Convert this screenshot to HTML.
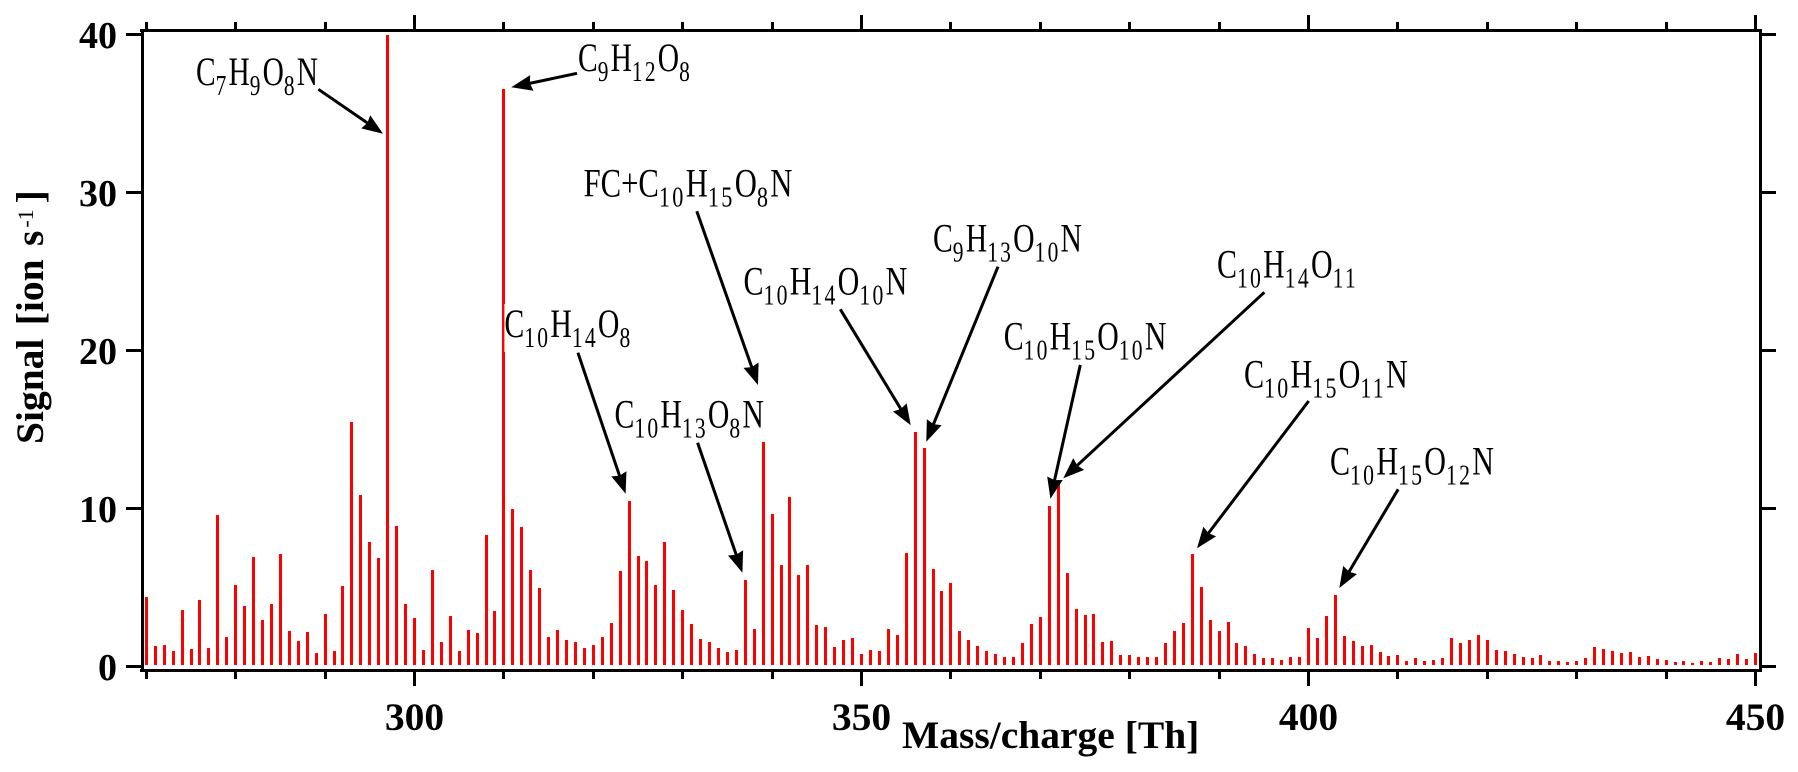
<!DOCTYPE html>
<html lang="en">
<head>
<meta charset="utf-8">
<title>Mass spectrum</title>
<style>
html,body{margin:0;padding:0;background:#fff;}
svg{display:block;font-family:"Liberation Serif",serif;}
.tick-num{font-weight:bold;fill:#000;}
.formula{font-size:40px;fill:#000;}
.formula .s{font-size:29px;letter-spacing:3px;}
</style>
</head>
<body>
<svg id="chart" xmlns="http://www.w3.org/2000/svg" width="1798" height="772" viewBox="0 0 1798 772">
  <rect x="0" y="0" width="1798" height="772" fill="#fff"/>
  <g id="bars" shape-rendering="crispEdges"></g>
  <rect x="504.4" y="304" width="4" height="48" fill="#fff"/>
  <g id="axes" fill="#000" shape-rendering="crispEdges">
    <rect x="140" y="669" width="1622" height="3"/>
    <rect x="140" y="29" width="1622" height="3"/>
    <rect x="141" y="29" width="3" height="643"/>
    <rect x="1759" y="29" width="3" height="643"/>
  </g>
  <g id="ticks" shape-rendering="crispEdges"></g>
  <g id="tick-labels"></g>
  <text x="902" y="748" font-size="39.5" font-weight="bold" fill="#000">Mass/charge [Th]</text>
  <text transform="translate(43,444) rotate(-90)" font-size="39.5" font-weight="bold" fill="#000" word-spacing="3.5">Signal [ion s<tspan font-size="22" font-weight="normal" dx="3" dy="-10">-1</tspan><tspan dx="6" dy="10">]</tspan></text>
  <g id="arrows"></g>
  <g id="formulas">
    <text class="formula" data-l="196" data-r="318" data-b="85">C<tspan class="s" dy="10">7</tspan><tspan dy="-10">H</tspan><tspan class="s" dy="10">9</tspan><tspan dy="-10">O</tspan><tspan class="s" dy="10">8</tspan><tspan dy="-10">N</tspan></text>
    <text class="formula" data-l="578" data-r="692" data-b="71">C<tspan class="s" dy="10">9</tspan><tspan dy="-10">H</tspan><tspan class="s" dy="10">12</tspan><tspan dy="-10">O</tspan><tspan class="s" dy="10">8</tspan></text>
    <text class="formula" data-l="583.6" data-r="792.5" data-b="196.7">FC+C<tspan class="s" dy="10">10</tspan><tspan dy="-10">H</tspan><tspan class="s" dy="10">15</tspan><tspan dy="-10">O</tspan><tspan class="s" dy="10">8</tspan><tspan dy="-10">N</tspan></text>
    <text class="formula" data-l="504.4" data-r="632.5" data-b="337">C<tspan class="s" dy="10">10</tspan><tspan dy="-10">H</tspan><tspan class="s" dy="10">14</tspan><tspan dy="-10">O</tspan><tspan class="s" dy="10">8</tspan></text>
    <text class="formula" data-l="614.5" data-r="763.8" data-b="427.7">C<tspan class="s" dy="10">10</tspan><tspan dy="-10">H</tspan><tspan class="s" dy="10">13</tspan><tspan dy="-10">O</tspan><tspan class="s" dy="10">8</tspan><tspan dy="-10">N</tspan></text>
    <text class="formula" data-l="743.5" data-r="907.3" data-b="294.7">C<tspan class="s" dy="10">10</tspan><tspan dy="-10">H</tspan><tspan class="s" dy="10">14</tspan><tspan dy="-10">O</tspan><tspan class="s" dy="10">10</tspan><tspan dy="-10">N</tspan></text>
    <text class="formula" data-l="933" data-r="1082" data-b="251.3">C<tspan class="s" dy="10">9</tspan><tspan dy="-10">H</tspan><tspan class="s" dy="10">13</tspan><tspan dy="-10">O</tspan><tspan class="s" dy="10">10</tspan><tspan dy="-10">N</tspan></text>
    <text class="formula" data-l="1003.7" data-r="1166.4" data-b="349.3">C<tspan class="s" dy="10">10</tspan><tspan dy="-10">H</tspan><tspan class="s" dy="10">15</tspan><tspan dy="-10">O</tspan><tspan class="s" dy="10">10</tspan><tspan dy="-10">N</tspan></text>
    <text class="formula" data-l="1217" data-r="1358" data-b="277.3">C<tspan class="s" dy="10">10</tspan><tspan dy="-10">H</tspan><tspan class="s" dy="10">14</tspan><tspan dy="-10">O</tspan><tspan class="s" dy="10">11</tspan></text>
    <text class="formula" data-l="1244" data-r="1407.8" data-b="387.5">C<tspan class="s" dy="10">10</tspan><tspan dy="-10">H</tspan><tspan class="s" dy="10">15</tspan><tspan dy="-10">O</tspan><tspan class="s" dy="10">11</tspan><tspan dy="-10">N</tspan></text>
    <text class="formula" data-l="1330" data-r="1494" data-b="474.3">C<tspan class="s" dy="10">10</tspan><tspan dy="-10">H</tspan><tspan class="s" dy="10">15</tspan><tspan dy="-10">O</tspan><tspan class="s" dy="10">12</tspan><tspan dy="-10">N</tspan></text>
  </g>
</svg>
<script>
var firstMass = 270;
var signalValues = [
  4.39,1.29,1.35,0.97,3.57,1.10,4.20,1.16,9.58,1.86,
  5.15,3.82,6.92,2.93,3.95,7.11,2.24,1.60,2.17,0.84,
  3.31,0.97,5.09,15.47,10.85,7.87,6.86,40,8.89,3.95,
  3.06,1.03,6.10,1.54,3.19,0.97,2.30,2.11,8.32,3.50,
  36.56,9.96,8.82,6.10,4.96,1.86,2.30,1.67,1.54,1.16,
  1.35,1.86,2.74,6.04,10.47,6.99,6.67,5.15,7.87,4.83,
  3.57,2.68,1.73,1.54,1.16,0.91,1.03,5.47,2.36,14.21,
  9.65,6.42,10.72,5.78,6.42,2.62,2.49,1.22,1.67,1.79,
  0.78,1.03,0.97,2.36,1.98,7.18,14.84,13.83,6.16,4.77,
  5.28,2.24,1.67,1.29,0.97,0.78,0.59,0.59,1.48,2.68,
  3.12,10.15,11.74,5.91,3.63,3.25,3.31,1.54,1.60,0.72,
  0.72,0.59,0.59,0.59,1.48,2.24,2.74,7.11,5.02,2.93,
  2.24,2.81,1.48,1.29,0.78,0.53,0.53,0.40,0.59,0.59,
  2.43,1.79,3.19,4.52,1.92,1.60,1.29,1.35,0.91,0.65,
  0.72,0.34,0.53,0.34,0.40,0.53,1.79,1.48,1.67,1.98,
  1.67,1.03,0.97,0.78,0.59,0.53,0.72,0.34,0.34,0.27,
  0.34,0.53,1.22,1.10,0.97,0.84,0.91,0.59,0.65,0.46,
  0.40,0.27,0.34,0.21,0.34,0.27,0.53,0.46,0.78,0.46,
  0.84
];
var xMajorTicks = [300,350,400,450];
var xMinorTicks = [270,280,290,310,320,330,340,360,370,380,390,410,420,430,440];
var yTicks = [0,10,20,30,40];

function xScale(m){ return 414.5 + (m - 300) * 8.94; }
function yScale(v){ return 666.3 - v * 15.79; }
function snap(p){ return Math.round(p - 0.5) + 0.5; }

var NS = 'http://www.w3.org/2000/svg';
function mk(tag, parent){ var e = document.createElementNS(NS, tag); parent.appendChild(e); return e; }
function ln(parent, x1, y1, x2, y2, w){
  var l = mk('line', parent);
  l.setAttribute('x1', x1); l.setAttribute('y1', y1);
  l.setAttribute('x2', x2); l.setAttribute('y2', y2);
  l.setAttribute('stroke', '#000'); l.setAttribute('stroke-width', w);
  return l;
}

var barsG = document.getElementById('bars');
signalValues.forEach(function(v, i){
  var m = firstMass + i;
  var top = Math.round(yScale(v));
  var bottom = 665;
  var r = mk('rect', barsG);
  
  
  r.setAttribute('x', Math.round(xScale(m) - 1.5));
  r.setAttribute('y', top);
  r.setAttribute('width', 3);
  r.setAttribute('height', Math.max(bottom - top, 1));
  r.setAttribute('fill', '#f00');
});

var ticksG = document.getElementById('ticks');
var labelsG = document.getElementById('tick-labels');
xMajorTicks.forEach(function(t){
  var x = snap(xScale(t));
  var a = ln(ticksG, x, 15, x, 30, 3);
  
  
  var b = ln(ticksG, x, 671, x, 686, 3);
  
  
  var lab = mk('text', labelsG);
  
  
  lab.setAttribute('class', 'tick-num');
  lab.setAttribute('x', xScale(t));
  lab.setAttribute('y', 730);
  lab.setAttribute('font-size', 39.5);
  lab.setAttribute('text-anchor', 'middle');
  lab.textContent = String(t);
});
xMinorTicks.forEach(function(t){
  var x = snap(xScale(t));
  var a = ln(ticksG, x, 22, x, 30, 3);
  
  
  var b = ln(ticksG, x, 671, x, 679, 3);
  
  
});
yTicks.forEach(function(t){
  var y = snap(yScale(t));
  var a = ln(ticksG, 126, y, 142, y, 3);
  
  
  var b = ln(ticksG, 1760, y, 1776, y, 3);
  
  
  var lab = mk('text', labelsG);
  
  
  lab.setAttribute('class', 'tick-num');
  lab.setAttribute('x', 117);
  lab.setAttribute('y', yScale(t) + 13.5);
  lab.setAttribute('font-size', 38);
  lab.setAttribute('text-anchor', 'end');
  lab.textContent = String(t);
});

var arrowStarts = [[318.4,89.3],[577,73.3],[696.8,211.3],[577.9,352.7],[697.6,442.7],[840.3,309.3],[998,266.7],[1080.3,365],[1264.3,292.3],[1308.7,401],[1398.2,489.3]];
var arrowTips = [[383,133.7],[511.3,87.3],[758,385],[625.6,493.7],[742.4,572.7],[910.7,425.3],[926.3,441.7],[1050.4,498.7],[1063.3,478.3],[1197,548.3],[1339.3,588]];
var arrowsG = document.getElementById('arrows');
arrowStarts.forEach(function(s, i){
  var t = arrowTips[i];
  var dx = t[0] - s[0], dy = t[1] - s[1];
  var len = Math.sqrt(dx * dx + dy * dy);
  var ux = dx / len, uy = dy / len;
  var g = mk('g', arrowsG);
  
  
  ln(g, s[0], s[1], t[0] - ux * 14, t[1] - uy * 14, 3);
  var bx = t[0] - ux * 21, by = t[1] - uy * 21;
  var nx = t[0] - ux * 19, ny = t[1] - uy * 19;
  var p = mk('polygon', g);
  p.setAttribute('points', [
    t[0] + ',' + t[1],
    (bx - uy * 8) + ',' + (by + ux * 8),
    nx + ',' + ny,
    (bx + uy * 8) + ',' + (by - ux * 8)
  ].join(' '));
  p.setAttribute('fill', '#000');
});

var formulas = document.querySelectorAll('.formula');
for (var k = 0; k < formulas.length; k++) {
  var f = formulas[k];
  var l = parseFloat(f.getAttribute('data-l'));
  var r = parseFloat(f.getAttribute('data-r'));
  var b = parseFloat(f.getAttribute('data-b'));
  var w = f.getComputedTextLength();
  f.setAttribute('transform', 'translate(' + l + ',' + b + ') scale(' + ((r - l) / w).toFixed(4) + ',1)');
}
</script>
</body>
</html>
